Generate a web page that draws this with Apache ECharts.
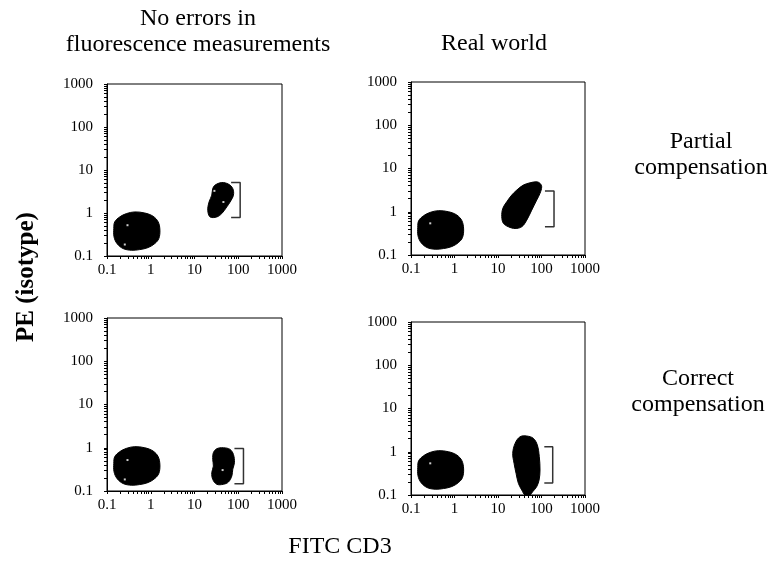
<!DOCTYPE html>
<html>
<head>
<meta charset="utf-8">
<script src="https://cdn.jsdelivr.net/npm/echarts@6/dist/echarts.min.js"></script>
<style>
  html, body { margin: 0; padding: 0; background: #fff; }
  #chart { width: 776px; height: 572px; }
</style>
</head>
<body>
<div id="chart"></div>
<script>
// Log decade ticks shared by every panel
const majorTicks = [0.1, 1, 10, 100, 1000];
const minorTicks = [
  0.1, 0.2, 0.3, 0.4, 0.5, 0.6, 0.7, 0.8, 0.9,
  1, 2, 3, 4, 5, 6, 7, 8, 9,
  10, 20, 30, 40, 50, 60, 70, 80, 90,
  100, 200, 300, 400, 500, 600, 700, 800, 900, 1000
];

// Unstained (CD3-negative) population outline, same in each panel
const negX = [0.150, 0.195, 0.279, 0.43, 0.73, 1.13, 1.48, 1.62, 1.53, 1.24, 0.87, 0.56, 0.36, 0.233, 0.169, 0.145, 0.143];
const negY = [0.62, 0.81, 0.97, 1.06, 1.0, 0.84, 0.62, 0.40, 0.255, 0.195, 0.157, 0.141, 0.136, 0.149, 0.195, 0.277, 0.435];

// CD3-positive population outlines
const posX1 = [29.5, 42, 59.6, 75, 77.6, 65, 54.8, 42, 32.3, 22.7, 20.1, 21.5, 24.8, 26.1];
const posY1 = [4.45, 5.1, 4.7, 3.7, 2.6, 1.8, 1.39, 0.97, 0.81, 0.81, 1.16, 1.8, 2.6, 3.7];

const posX2 = [92.4, 101, 92.4, 77.6, 59.6, 45.8, 35.2, 24.7, 17.3, 13.3, 12.2, 12.9, 15.9, 20.7, 27, 38.3, 54.5, 77.6];
const posY2 = [4.53, 3.78, 2.66, 1.86, 1.09, 0.64, 0.45, 0.41, 0.45, 0.54, 0.77, 1.2, 1.70, 2.43, 3.17, 4.14, 4.67, 4.93];

const posX3 = [32.3, 45.8, 65, 77.6, 81.8, 75, 71.3, 59.6, 45.8, 32.3, 26.1, 24.8, 27, 26.1, 27];
const posY3 = [0.95, 1.0, 0.916, 0.70, 0.45, 0.32, 0.222, 0.161, 0.143, 0.143, 0.186, 0.265, 0.377, 0.54, 0.77];

const posX4 = [32.1, 45.8, 64.9, 80.1, 89, 92.4, 88, 77.6, 62.8, 54.5, 41.9, 35.2, 29.4, 26, 23.4, 21.8, 24.7];
const posY4 = [2.22, 2.31, 2.04, 1.43, 0.77, 0.378, 0.222, 0.156, 0.119, 0.1, 0.1, 0.13, 0.186, 0.317, 0.54, 0.918, 1.56];

// Empty spots (no events) inside the populations, per panel
const holes1 = [[0.294, 0.52], [0.255, 0.185], [28.5, 3.27], [45.8, 1.8]];
const holes2 = [[0.277, 0.54]];
const holes3 = [[0.294, 0.52], [0.255, 0.185], [43.9, 0.305]];
const holes4 = [[0.277, 0.54]];

// Gate brackets: [arm x, bar x, top y, bottom y]
const gate1 = [68.7, 110.6, 5.1, 0.79];
const gate2 = [120, 194, 3.0, 0.45];
const gate3 = [81.8, 131.6, 0.966, 0.148];
const gate4 = [116, 181, 1.30, 0.19];

const colTitles = ['No errors in\nfluorescence measurements', 'Real world'];
const rowTitles = ['Partial\ncompensation', 'Correct\ncompensation'];
const xTitle = 'FITC CD3';
const yTitle = 'PE (isotype)';

const SERIF = '"Liberation Serif", "DejaVu Serif", serif';

const grids = [
  { left: 107, top: 84, width: 175, height: 172 },
  { left: 411, top: 82, width: 174, height: 173 },
  { left: 107, top: 318, width: 175, height: 173 },
  { left: 411, top: 322, width: 174, height: 173 }
];

function logAxis(idx, margin) {
  return {
    type: 'log',
    logBase: 10,
    gridIndex: idx,
    min: 0.1,
    max: 1000,
    axisLine: { show: true, lineStyle: { color: '#000', width: 1 } },
    axisTick: {
      show: true, inside: false, length: 3,
      customValues: minorTicks,
      lineStyle: { color: '#000', width: 1 }
    },
    minorTick: { show: false },
    splitLine: { show: false },
    axisLabel: {
      customValues: majorTicks,
      margin: margin,
      fontFamily: SERIF, fontSize: 15, color: '#000',
      formatter: v => String(+Number(v).toPrecision(3))
    }
  };
}

function blob(idx, xs, ys) {
  return {
    type: 'custom',
    xAxisIndex: idx,
    yAxisIndex: idx,
    silent: true,
    data: xs.map((x, i) => [x, ys[i]]),
    renderItem: function (params, api) {
      if (params.dataIndex !== 0) return null;
      const pts = xs.map((x, i) => api.coord([x, ys[i]]));
      return {
        type: 'polygon',
        shape: { points: pts, smooth: 0.35 },
        style: { fill: '#000', stroke: '#000', lineWidth: 1 }
      };
    }
  };
}

function holes(idx, pts) {
  return {
    type: 'scatter',
    xAxisIndex: idx,
    yAxisIndex: idx,
    silent: true,
    symbol: 'rect',
    symbolSize: 2,
    itemStyle: { color: '#fff' },
    z: 5,
    data: pts
  };
}

function bracket(idx, g) {
  return {
    type: 'line',
    xAxisIndex: idx,
    yAxisIndex: idx,
    silent: true,
    symbol: 'none',
    lineStyle: { color: '#333', width: 1.5 },
    data: [[g[0], g[2]], [g[1], g[2]], [g[1], g[3]], [g[0], g[3]]]
  };
}

const posXs = [posX1, posX2, posX3, posX4];
const posYs = [posY1, posY2, posY3, posY4];
const holeSets = [holes1, holes2, holes3, holes4];
const gates = [gate1, gate2, gate3, gate4];

const series = [];
for (let i = 0; i < 4; i++) {
  series.push(blob(i, negX, negY));
  series.push(blob(i, posXs[i], posYs[i]));
  series.push(holes(i, holeSets[i]));
  series.push(bracket(i, gates[i]));
}

const textStyle = (extra) => Object.assign({
  fontFamily: SERIF, fontSize: 24, fill: '#000',
  textAlign: 'center', textVerticalAlign: 'middle', lineHeight: 26
}, extra);

const option = {
  backgroundColor: '#fff',
  animation: false,
  grid: grids.map(g => Object.assign({ show: true, borderColor: '#000', borderWidth: 1, backgroundColor: '#fff' }, g)),
  xAxis: [0, 1, 2, 3].map(i => logAxis(i, 7)),
  yAxis: [0, 1, 2, 3].map(i => logAxis(i, 14)),
  series: series,
  graphic: [
    { type: 'text', style: textStyle({ x: 198, y: 32, text: colTitles[0] }) },
    { type: 'text', style: textStyle({ x: 494, y: 44, text: colTitles[1] }) },
    { type: 'text', style: textStyle({ x: 701, y: 155, text: rowTitles[0] }) },
    { type: 'text', style: textStyle({ x: 698, y: 392, text: rowTitles[1] }) },
    { type: 'text', style: textStyle({ x: 340, y: 547, text: xTitle, fontSize: 24 }) },
    { type: 'text', rotation: Math.PI / 2, x: 27, y: 277,
      style: textStyle({ x: 0, y: 0, text: yTitle, fontSize: 25, fontWeight: 'bold' }) }
  ]
};

const chart = echarts.init(document.getElementById('chart'), null, { renderer: 'canvas' });
chart.setOption(option);
</script>
</body>
</html>
